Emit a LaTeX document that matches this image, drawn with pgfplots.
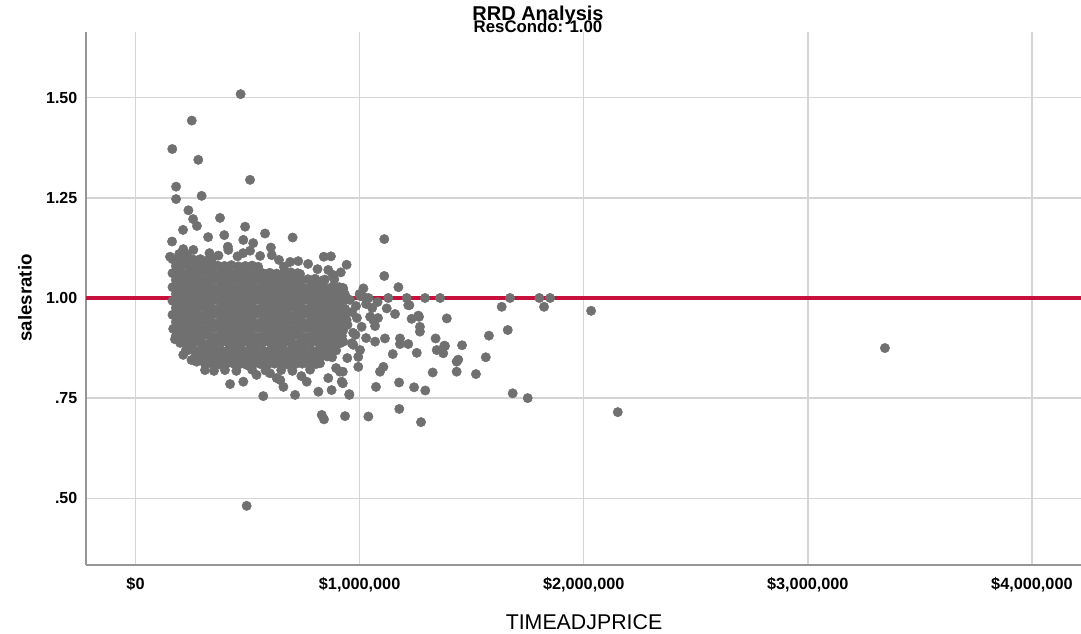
\documentclass[border=0pt]{standalone}
\usepackage{pgfplots}
\pgfplotsset{compat=1.18}
\usepackage{fontspec}
\setmainfont{Liberation Sans}
\definecolor{ptc}{RGB}{112,112,112}
\definecolor{refred}{RGB}{200,16,60}
\definecolor{gridc}{RGB}{212,212,212}
\definecolor{axc}{RGB}{150,150,150}
\begin{document}
\begin{tikzpicture}
\path[use as bounding box] (-64.5pt,-51.75pt) rectangle (746.25pt,423.75pt);
\begin{axis}[
  at={(0,0)}, anchor=south west, scale only axis,
  width=746.25pt, height=399.75pt,
  xmin=-221000, xmax=4219000, ymin=0.3333, ymax=1.6642,
  axis x line*=bottom, axis y line*=left,
  axis line style={-, draw=axc, line width=1.1pt},
  xtick={0,1000000,2000000,3000000,4000000},
  xticklabels={{\$0},{\$1,000,000},{\$2,000,000},{\$3,000,000},{\$4,000,000}},
  ytick={0.5,0.75,1,1.25,1.5},
  yticklabels={.50,.75,1.00,1.25,1.50},
  scaled x ticks=false, scaled y ticks=false,
  grid=major, major grid style={draw=gridc, line width=1.1pt},
  tick style={draw=none},
  x tick label style={font=\bfseries\fontsize{12.2}{13}\selectfont, yshift=-6pt},
  y tick label style={font=\bfseries\fontsize{12}{13}\selectfont, xshift=-3pt},
  xlabel={TIMEADJPRICE}, ylabel={salesratio},
  xlabel style={at={(axis description cs:0.5005,-0.107)}, anchor=center, font=\fontsize{16}{17}\selectfont},
  ylabel style={at={(axis description cs:-0.0613,0.501)}, anchor=center, font=\bfseries\fontsize{14}{15}\selectfont},
]
% dense cluster
\addplot[only marks, mark=*, color=ptc, mark size=3.5pt] coordinates {
(165000,1.097) (196000,1.095) (227000,1.098) (258000,1.096) (289000,1.097) (320000,1.094) (340000,1.097)
(180000,1.080) (211000,1.082) (242000,1.079) (273000,1.081) (304000,1.080) (335000,1.078) (366000,1.081) (397000,1.080) (428000,1.082) (459000,1.079) (490000,1.080) (521000,1.081) (547000,1.078)
(165000,1.062) (196000,1.063) (227000,1.061) (258000,1.062) (289000,1.064) (320000,1.062) (351000,1.060) (382000,1.063) (413000,1.062) (444000,1.061) (475000,1.063) (506000,1.062) (537000,1.060) (568000,1.062) (599000,1.063) (630000,1.061) (661000,1.062) (692000,1.064) (723000,1.062) (734000,1.060)
(180000,1.045) (211000,1.044) (242000,1.046) (273000,1.045) (304000,1.043) (335000,1.045) (366000,1.046) (397000,1.044) (428000,1.045) (459000,1.047) (490000,1.045) (521000,1.044) (552000,1.046) (583000,1.045) (614000,1.043) (645000,1.045) (676000,1.046) (707000,1.044) (738000,1.045) (769000,1.047) (800000,1.045) (831000,1.043) (845000,1.046)
(165000,1.027) (196000,1.028) (227000,1.026) (258000,1.027) (289000,1.029) (320000,1.027) (351000,1.025) (382000,1.028) (413000,1.027) (444000,1.026) (475000,1.028) (506000,1.027) (537000,1.025) (568000,1.027) (599000,1.028) (630000,1.026) (661000,1.027) (692000,1.029) (723000,1.027) (754000,1.025) (785000,1.028) (816000,1.027) (847000,1.026) (878000,1.028) (909000,1.027) (926000,1.025)
(180000,1.010) (211000,1.011) (242000,1.009) (273000,1.010) (304000,1.012) (335000,1.010) (366000,1.008) (397000,1.011) (428000,1.010) (459000,1.009) (490000,1.011) (521000,1.010) (552000,1.008) (583000,1.010) (614000,1.011) (645000,1.009) (676000,1.010) (707000,1.012) (738000,1.010) (769000,1.008) (800000,1.011) (831000,1.010) (862000,1.009) (893000,1.011) (924000,1.010) (935000,1.008)
(165000,0.993) (196000,0.992) (227000,0.994) (258000,0.993) (289000,0.991) (320000,0.993) (351000,0.995) (382000,0.992) (413000,0.993) (444000,0.994) (475000,0.992) (506000,0.993) (537000,0.995) (568000,0.993) (599000,0.992) (630000,0.994) (661000,0.993) (692000,0.991) (723000,0.993) (754000,0.995) (785000,0.992) (816000,0.993) (847000,0.994) (878000,0.992) (909000,0.993) (935000,0.995)
(180000,0.975) (211000,0.976) (242000,0.974) (273000,0.975) (304000,0.977) (335000,0.975) (366000,0.973) (397000,0.976) (428000,0.975) (459000,0.974) (490000,0.976) (521000,0.975) (552000,0.973) (583000,0.975) (614000,0.976) (645000,0.974) (676000,0.975) (707000,0.977) (738000,0.975) (769000,0.973) (800000,0.976) (831000,0.975) (862000,0.974) (893000,0.976) (924000,0.975) (935000,0.973)
(165000,0.958) (196000,0.957) (227000,0.959) (258000,0.958) (289000,0.956) (320000,0.958) (351000,0.960) (382000,0.957) (413000,0.958) (444000,0.959) (475000,0.957) (506000,0.958) (537000,0.960) (568000,0.958) (599000,0.957) (630000,0.959) (661000,0.958) (692000,0.956) (723000,0.958) (754000,0.960) (785000,0.957) (816000,0.958) (847000,0.959) (878000,0.957) (909000,0.958) (935000,0.960)
(180000,0.940) (211000,0.941) (242000,0.939) (273000,0.940) (304000,0.942) (335000,0.940) (366000,0.938) (397000,0.941) (428000,0.940) (459000,0.939) (490000,0.941) (521000,0.940) (552000,0.938) (583000,0.940) (614000,0.941) (645000,0.939) (676000,0.940) (707000,0.942) (738000,0.940) (769000,0.938) (800000,0.941) (831000,0.940) (862000,0.939) (893000,0.941) (924000,0.940) (931000,0.938)
(168000,0.923) (199000,0.922) (230000,0.924) (261000,0.923) (292000,0.921) (323000,0.923) (354000,0.925) (385000,0.922) (416000,0.923) (447000,0.924) (478000,0.922) (509000,0.923) (540000,0.925) (571000,0.923) (602000,0.922) (633000,0.924) (664000,0.923) (695000,0.921) (726000,0.923) (757000,0.925) (788000,0.922) (819000,0.923) (850000,0.924) (881000,0.922) (912000,0.923) (926000,0.925)
(180000,0.905) (211000,0.906) (242000,0.904) (273000,0.905) (304000,0.907) (335000,0.905) (366000,0.903) (397000,0.906) (428000,0.905) (459000,0.904) (490000,0.906) (521000,0.905) (552000,0.903) (583000,0.905) (614000,0.906) (645000,0.904) (676000,0.905) (707000,0.907) (738000,0.905) (769000,0.903) (800000,0.906) (831000,0.905) (862000,0.904) (893000,0.906) (921000,0.905)
(199000,0.888) (230000,0.887) (261000,0.889) (292000,0.888) (323000,0.886) (354000,0.888) (385000,0.890) (416000,0.887) (447000,0.888) (478000,0.889) (509000,0.887) (540000,0.888) (571000,0.890) (602000,0.888) (633000,0.887) (664000,0.889) (695000,0.888) (726000,0.886) (757000,0.888) (788000,0.890) (819000,0.887) (850000,0.888) (881000,0.889) (912000,0.887)
(225000,0.870) (256000,0.871) (287000,0.869) (318000,0.870) (349000,0.872) (380000,0.870) (411000,0.868) (442000,0.871) (473000,0.870) (504000,0.869) (535000,0.871) (566000,0.870) (597000,0.868) (628000,0.870) (659000,0.871) (690000,0.869) (721000,0.870) (752000,0.872) (783000,0.870) (814000,0.868) (845000,0.871) (876000,0.870) (895000,0.869)
(266000,0.853) (297000,0.852) (328000,0.854) (359000,0.853) (390000,0.851) (421000,0.853) (452000,0.855) (483000,0.852) (514000,0.853) (545000,0.854) (576000,0.852) (607000,0.853) (638000,0.855) (669000,0.853) (700000,0.852) (731000,0.854) (762000,0.853) (793000,0.851) (824000,0.853) (855000,0.854) (877000,0.852)
(310000,0.835) (341000,0.836) (372000,0.834) (403000,0.835) (434000,0.837) (465000,0.835) (496000,0.833) (527000,0.836) (558000,0.835) (589000,0.834) (620000,0.836) (651000,0.835) (682000,0.833) (713000,0.835) (744000,0.836) (775000,0.834) (806000,0.835) (823000,0.837)
(399000,0.820) (450000,0.818) (520000,0.821) (580000,0.819) (650000,0.820) (700000,0.818) (779000,0.821)
};
% scattered points
\addplot[only marks, mark=*, color=ptc, mark size=3.5pt] coordinates {
(469000,1.509) (251000,1.443) (164000,1.372) (280000,1.345) (511000,1.295) (181000,1.278) (181000,1.247) (295000,1.255)
(236000,1.219) (257000,1.197) (377000,1.200) (212000,1.170) (274000,1.180) (489000,1.178) (163000,1.141) (324000,1.152)
(396000,1.157) (481000,1.145) (578000,1.161) (701000,1.151) (412000,1.128) (525000,1.137) (604000,1.126) (608000,1.107)
(154000,1.103) (840000,1.103) (872000,1.104) (726000,1.092) (942000,1.083) (662000,1.078) (812000,1.072) (916000,1.064)
(801000,1.048) (887000,1.047) (213000,1.122) (258000,1.120) (414000,1.120) (511000,1.118) (556000,1.105) (195000,1.110)
(230000,1.108) (330000,1.112) (370000,1.106) (455000,1.104) (480000,1.112) (640000,1.095) (690000,1.090) (770000,1.085)
(860000,1.070) (880000,1.058)
(1110000,1.147) (1110000,1.055) (1173000,1.027) (1017000,1.024) (927000,1.020) (1017000,1.003) (1128000,1.000) (1210000,1.000)
(1292000,1.000) (1359000,1.000) (1671000,1.000) (1802000,1.000) (1850000,1.000) (1634000,0.978) (1823000,0.978) (1217000,0.982)
(1121000,0.974) (1158000,0.960) (1047000,0.953) (1265000,0.953) (1389000,0.949) (1061000,0.945) (942000,0.945) (1009000,0.928)
(1269000,0.928) (1269000,0.916) (1661000,0.920) (927000,0.920) (1577000,0.906) (1113000,0.899) (1180000,0.899) (1339000,0.899)
(1069000,0.891) (927000,0.891) (972000,0.883) (1180000,0.885) (1217000,0.885) (1381000,0.880) (1457000,0.882) (1002000,0.870)
(1344000,0.870) (1255000,0.863) (1373000,0.862) (1148000,0.860) (994000,0.853) (1563000,0.852) (1433000,0.841) (1440000,0.846)
(1106000,0.828) (994000,0.828) (1091000,0.816) (1433000,0.816) (925000,0.816) (1326000,0.814) (1519000,0.810) (925000,0.787)
(1176000,0.789) (1073000,0.778) (1243000,0.777) (1293000,0.769) (1683000,0.762) (954000,0.760) (1750000,0.750) (1177000,0.723)
(1039000,0.704) (935000,0.705) (1274000,0.690) (2033000,0.968) (2152000,0.715) (3344000,0.875) (1232000,0.948) (1262000,0.956)
(1222000,0.982) (1378000,0.881)
(957000,0.995) (984000,0.980) (1029000,0.985) (966000,0.965) (1002000,1.005) (1056000,0.975) (1082000,0.950) (946000,0.933)
(981000,0.908) (1029000,0.900) (1069000,0.930) (988000,0.950) (1040000,1.000) (1080000,0.990) (1000000,1.010)
(310000,0.820) (422000,0.785) (481000,0.791) (570000,0.755) (630000,0.800) (712000,0.758) (764000,0.791) (816000,0.766)
(875000,0.770) (920000,0.791) (954000,0.758) (831000,0.708) (841000,0.697) (912000,0.816) (213000,0.858) (176000,0.897)
(273000,0.841) (965000,0.887) (971000,0.913) (496000,0.481) (660000,0.778) (646000,0.795) (236000,0.870) (250000,0.845)
(350000,0.818) (540000,0.808) (600000,0.812) (740000,0.805) (860000,0.800) (895000,0.825) (945000,0.850)
};
% reference line
\addplot[refred, line width=2.4pt, no marks] coordinates {(-221000,1) (4219000,1)};
\end{axis}
\node[font=\bfseries\fontsize{12.6}{13}\selectfont] at (339pt,403.7pt) {ResCondo: 1.00};
\node[font=\bfseries\fontsize{15}{16}\selectfont] at (339pt,412pt) {RRD Analysis};
\end{tikzpicture}
\end{document}
